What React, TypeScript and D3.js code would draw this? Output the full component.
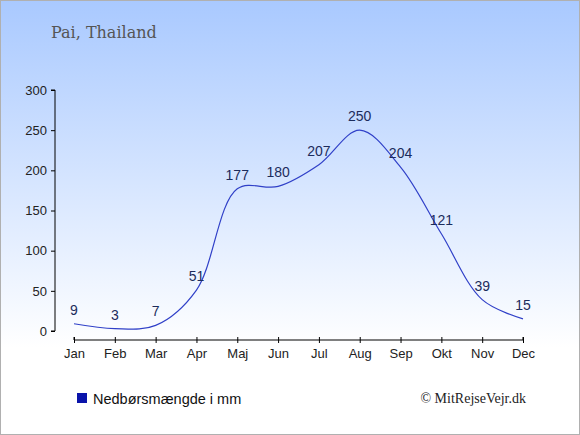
import { useRef, useEffect } from 'react';
import * as d3 from 'd3';

const MONTHS = ['Jan', 'Feb', 'Mar', 'Apr', 'Maj', 'Jun', 'Jul', 'Aug', 'Sep', 'Okt', 'Nov', 'Dec'];
const RAIN = [9, 3, 7, 51, 177, 180, 207, 250, 204, 121, 39, 15];
const Y_TICKS = [0, 50, 100, 150, 200, 250, 300];

const WIDTH = 580;
const HEIGHT = 435;
const PLOT = { left: 55, top: 90, bottom: 331, xStart: 74, xEnd: 523, axisY: 340 };

export default function App() {
  const svgRef = useRef<SVGSVGElement>(null);

  useEffect(() => {
    if (!svgRef.current) return;
    const svg = d3.select(svgRef.current);
    svg.selectAll('*').remove();

    const defs = svg.append('defs');
    const grad = defs.append('linearGradient')
      .attr('id', 'bg')
      .attr('x1', 0).attr('y1', 0).attr('x2', 0).attr('y2', 1);
    grad.append('stop').attr('offset', '0%').attr('stop-color', '#a9c9ff');
    grad.append('stop').attr('offset', '80%').attr('stop-color', '#ffffff');
    grad.append('stop').attr('offset', '100%').attr('stop-color', '#ffffff');

    svg.append('rect')
      .attr('x', 0.5).attr('y', 0.5)
      .attr('width', WIDTH - 1).attr('height', HEIGHT - 1)
      .attr('fill', 'url(#bg)')
      .attr('stroke', '#b0b0b0');

    svg.append('text')
      .attr('x', 51).attr('y', 38)
      .attr('font-family', '"DejaVu Serif", serif')
      .attr('font-size', '16px')
      .attr('fill', '#555555')
      .text('Pai, Thailand');

    const x = d3.scalePoint<string>().domain(MONTHS).range([PLOT.xStart, PLOT.xEnd]);
    const y = d3.scaleLinear().domain([0, 300]).range([PLOT.bottom, PLOT.top]);

    // Y axis
    const yAxis = d3.axisLeft(y).tickValues(Y_TICKS).tickSize(4).tickPadding(4);
    const yg = svg.append('g')
      .attr('transform', `translate(${PLOT.left},0)`)
      .call(yAxis);
    yg.selectAll('text')
      .attr('font-family', '"Liberation Sans", Arial, sans-serif')
      .attr('font-size', '13px')
      .attr('fill', '#222');
    yg.selectAll('.domain, line').attr('stroke', '#000');
    yg.select('.domain').attr('d', `M-4,${PLOT.top}H0V${PLOT.bottom}H-4`);

    // X axis
    const xAxis = d3.axisBottom(x).tickSize(4).tickPadding(5);
    const xg = svg.append('g')
      .attr('transform', `translate(0,${PLOT.axisY})`)
      .call(xAxis);
    xg.select('.domain').attr('d', `M${PLOT.xStart},-3V0H${PLOT.xEnd}V-3`);
    xg.selectAll('.tick line').attr('y1', -3).attr('y2', 3);
    xg.selectAll('text')
      .attr('font-family', '"Liberation Sans", Arial, sans-serif')
      .attr('font-size', '13px')
      .attr('fill', '#222');
    xg.selectAll('.domain, line').attr('stroke', '#000');

    const data = MONTHS.map((m, i) => ({ m, v: RAIN[i] }));

    const line = d3.line<{ m: string; v: number }>()
      .x(d => x(d.m) ?? 0)
      .y(d => y(d.v))
      .curve(d3.curveCatmullRom.alpha(0.5));

    svg.append('path')
      .datum(data)
      .attr('d', line)
      .attr('fill', 'none')
      .attr('stroke', '#3040c8')
      .attr('stroke-width', 1.2);

    svg.append('g')
      .selectAll('text')
      .data(data)
      .enter()
      .append('text')
      .attr('x', d => x(d.m) ?? 0)
      .attr('y', d => y(d.v) - 9)
      .attr('text-anchor', 'middle')
      .attr('font-family', '"Liberation Sans", Arial, sans-serif')
      .attr('font-size', '14px')
      .attr('fill', '#1c2c5c')
      .text(d => d.v);

    // Legend
    svg.append('rect')
      .attr('x', 77).attr('y', 393)
      .attr('width', 10).attr('height', 10)
      .attr('fill', '#0a14aa');
    svg.append('text')
      .attr('x', 93).attr('y', 404)
      .attr('font-family', '"Liberation Sans", Arial, sans-serif')
      .attr('font-size', '14.5px')
      .attr('fill', '#111')
      .text('Nedbørsmængde i mm');

    svg.append('text')
      .attr('x', 526).attr('y', 403)
      .attr('text-anchor', 'end')
      .attr('font-family', '"Liberation Serif", "Times New Roman", serif')
      .attr('font-size', '14px')
      .attr('fill', '#222')
      .text('© MitRejseVejr.dk');
  }, []);

  return (
    <div style={{ position: 'fixed', left: 0, top: 0 }}>
      <svg ref={svgRef} width={WIDTH} height={HEIGHT} style={{ display: 'block' }} />
    </div>
  );
}
